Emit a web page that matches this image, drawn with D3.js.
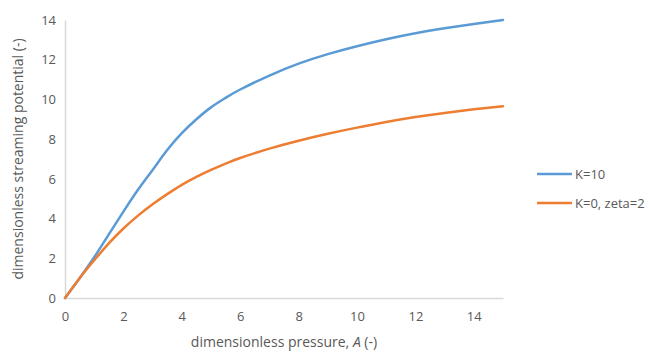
<!DOCTYPE html>
<html><head><meta charset="utf-8">
<script src="https://cdn.jsdelivr.net/npm/d3@7"></script>
<style>body{margin:0;background:#fff}text{font-family:"Open Sans","Noto Sans",sans-serif;fill:#595959}</style>
</head><body>
<svg id="c" width="649" height="353"></svg>
<script>
const pressure = [0,0.5,1,1.5,2,2.5,3,3.5,4,4.5,5,5.5,6,7,8,9,10,11,12,13,14,15];
const k10 = [0,1.0,2.05,3.2,4.35,5.45,6.45,7.45,8.3,9.0,9.6,10.08,10.5,11.2,11.8,12.28,12.68,13.03,13.33,13.58,13.8,14.0];
const k0zeta2 = [0,1.0,1.9,2.75,3.5,4.15,4.72,5.23,5.7,6.1,6.45,6.77,7.05,7.52,7.92,8.27,8.58,8.86,9.11,9.32,9.5,9.66];
const seriesNames = ["K=10","K=0, zeta=2"];
const seriesColors = ["#5b9bd5","#ed7d31"];
const xTicks = [0,2,4,6,8,10,12,14];
const yTicks = [0,2,4,6,8,10,12,14];

const svg = d3.select("#c");
const x = d3.scaleLinear().domain([0,15]).range([65,503]);
const y = d3.scaleLinear().domain([0,14]).range([298,20]);

const xa = svg.append("g").attr("transform","translate(0,298)")
  .call(d3.axisBottom(x).tickValues(xTicks).tickSize(0).tickPadding(14));
const ya = svg.append("g").attr("transform","translate(65,0)")
  .call(d3.axisLeft(y).tickValues(yTicks).tickSize(0).tickPadding(9));
[xa,ya].forEach(g=>{
  g.select(".domain").attr("stroke","#d9d9d9").attr("stroke-width",1.5);
  g.selectAll("text").style("font-size","13px").style("fill","#595959");
});

const line = d3.line().x((d,i)=>x(pressure[i])).y(d=>y(d)).curve(d3.curveNatural);
[k10,k0zeta2].forEach((s,i)=>{
  svg.append("path").datum(s).attr("d",line).attr("fill","none")
    .attr("stroke",seriesColors[i]).attr("stroke-width",2.5).attr("stroke-linecap","round");
});

svg.append("text").attr("x",284).attr("y",347).attr("text-anchor","middle")
  .style("font-size","14px")
  .html('dimensionless pressure, <tspan font-style="italic">A</tspan> (-)');
svg.append("text").attr("transform","translate(23,159) rotate(-90)").attr("text-anchor","middle")
  .style("font-size","14px").text("dimensionless streaming potential (-)");

seriesNames.forEach((n,i)=>{
  const ly = 174 + i*29;
  svg.append("line").attr("x1",537).attr("x2",572).attr("y1",ly).attr("y2",ly)
    .attr("stroke",seriesColors[i]).attr("stroke-width",2.5);
  svg.append("text").attr("x",575).attr("y",ly+5).style("font-size","13px").text(n);
});
</script>
</body></html>
